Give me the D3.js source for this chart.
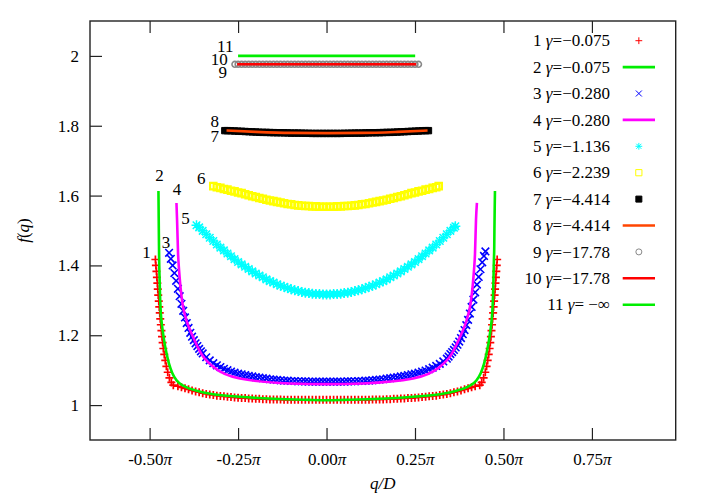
<!DOCTYPE html>
<html><head><meta charset="utf-8">
<script src="https://cdn.jsdelivr.net/npm/d3@7"></script>
<style>
html,body{margin:0;padding:0;background:#fff;}
svg{display:block;}
svg text{font-family:"Liberation Serif","Times New Roman","Nimbus Roman","DejaVu Serif",serif;}
</style></head><body>
<svg id="chart" width="706" height="494"></svg>
<script>
// ---------------- data (q in units of pi, f(q)) ----------------
const xTicks = [-0.5, -0.25, 0, 0.25, 0.5, 0.75];
const yTicks = [1, 1.2, 1.4, 1.6, 1.8, 2];
const seriesIds = ["1","2","3","4","5","6","7","8","9","10","11"];
const gammaLabels = ["−0.075","−0.075","−0.280","−0.280","−1.136","−2.239","−4.414","−4.414","−17.78","−17.78"," −∞"];

const s1 = [
[-0.4836,1.417],[-0.4822,1.400],[-0.4807,1.383],[-0.4794,1.366],[-0.4781,1.349],[-0.4769,1.332],[-0.4756,1.315],[-0.4741,1.298],[-0.4727,1.281],[-0.4713,1.264],[-0.4699,1.247],[-0.4683,1.230],[-0.4666,1.213],[-0.4649,1.196],[-0.4632,1.179],[-0.4612,1.162],[-0.4586,1.145],[-0.4557,1.128],[-0.4526,1.111],[-0.4488,1.094],[-0.4440,1.078],[-0.4385,1.065],[-0.4330,1.057],
[-0.42,1.054],[-0.41,1.051],[-0.40,1.048],[-0.39,1.045],[-0.38,1.042],[-0.37,1.039],[-0.36,1.037],[-0.35,1.034],[-0.34,1.032],[-0.33,1.030],[-0.32,1.029],[-0.31,1.027],[-0.30,1.026],[-0.29,1.025],[-0.28,1.024],[-0.27,1.023],[-0.26,1.022],[-0.25,1.021],[-0.24,1.020],[-0.23,1.020],[-0.22,1.019],[-0.21,1.019],[-0.20,1.018],[-0.19,1.018],[-0.18,1.017],[-0.17,1.017],[-0.16,1.016],[-0.15,1.016],[-0.14,1.016],[-0.13,1.016],[-0.12,1.015],[-0.11,1.015],[-0.10,1.015],[-0.09,1.015],[-0.08,1.015],[-0.07,1.015],[-0.06,1.015],[-0.05,1.015],[-0.04,1.015],[-0.03,1.015],[-0.02,1.015],[-0.01,1.015],[0,1.015],
[0.01,1.015],[0.02,1.015],[0.03,1.015],[0.04,1.015],[0.05,1.015],[0.06,1.015],[0.07,1.015],[0.08,1.015],[0.09,1.015],[0.10,1.015],[0.11,1.015],[0.12,1.015],[0.13,1.016],[0.14,1.016],[0.15,1.016],[0.16,1.016],[0.17,1.017],[0.18,1.017],[0.19,1.018],[0.20,1.018],[0.21,1.019],[0.22,1.019],[0.23,1.020],[0.24,1.020],[0.25,1.021],[0.26,1.022],[0.27,1.023],[0.28,1.024],[0.29,1.025],[0.30,1.026],[0.31,1.027],[0.32,1.029],[0.33,1.030],[0.34,1.032],[0.35,1.034],[0.36,1.037],[0.37,1.039],[0.38,1.042],[0.39,1.045],[0.40,1.048],[0.41,1.051],[0.42,1.054],
[0.4330,1.057],[0.4385,1.065],[0.4440,1.078],[0.4487,1.094],[0.4524,1.111],[0.4554,1.128],[0.4583,1.145],[0.4608,1.162],[0.4628,1.179],[0.4645,1.196],[0.4662,1.213],[0.4678,1.230],[0.4694,1.247],[0.4708,1.264],[0.4722,1.281],[0.4736,1.298],[0.4750,1.315],[0.4763,1.332],[0.4775,1.349],[0.4787,1.366],[0.4799,1.383],[0.4811,1.400],[0.4822,1.417]
];

const s2 = [
[-0.4750,1.613],[-0.4745,1.560],[-0.4740,1.505],[-0.4735,1.455],[-0.4730,1.415],[-0.4720,1.370],[-0.4705,1.312],[-0.4688,1.272],[-0.4666,1.243],[-0.4630,1.213],[-0.4590,1.185],[-0.4524,1.149],[-0.4450,1.118],[-0.4360,1.092],[-0.4240,1.071],[-0.4000,1.053],[-0.3675,1.041],[-0.3200,1.031],[-0.2450,1.024],[-0.1500,1.018],[-0.0500,1.015],[0,1.014],
[0.0500,1.015],[0.1500,1.018],[0.2450,1.024],[0.3200,1.031],[0.3675,1.041],[0.4000,1.053],[0.4240,1.071],[0.4360,1.092],[0.4450,1.118],[0.4524,1.149],[0.4590,1.185],[0.4630,1.213],[0.4666,1.243],[0.4688,1.272],[0.4705,1.312],[0.4720,1.370],[0.4730,1.415],[0.4740,1.455],[0.4745,1.505],[0.4752,1.560],[0.4760,1.613]
];

const s3 = [
[-0.445,1.436],[-0.440,1.419],[-0.435,1.400],[-0.430,1.378],[-0.425,1.356],[-0.420,1.333],[-0.415,1.312],[-0.410,1.290],[-0.405,1.270],[-0.400,1.251],[-0.395,1.235],[-0.390,1.221],[-0.385,1.207],[-0.380,1.196],[-0.375,1.186],[-0.370,1.177],[-0.365,1.169],[-0.360,1.161],[-0.355,1.154],[-0.350,1.148],
[-0.34,1.137],[-0.33,1.128],[-0.32,1.120],[-0.31,1.114],[-0.30,1.109],[-0.29,1.104],[-0.28,1.100],[-0.27,1.096],[-0.26,1.093],[-0.25,1.090],[-0.24,1.088],[-0.23,1.086],[-0.22,1.084],[-0.21,1.082],[-0.20,1.080],[-0.19,1.079],[-0.18,1.077],[-0.17,1.076],[-0.16,1.074],[-0.15,1.073],[-0.14,1.072],[-0.13,1.071],[-0.12,1.070],[-0.11,1.070],[-0.10,1.069],[-0.09,1.069],[-0.08,1.068],[-0.07,1.068],[-0.06,1.068],[-0.05,1.067],[-0.04,1.067],[-0.03,1.067],[-0.02,1.067],[-0.01,1.067],[0,1.067],
[0.01,1.067],[0.02,1.067],[0.03,1.067],[0.04,1.067],[0.05,1.067],[0.06,1.068],[0.07,1.068],[0.08,1.068],[0.09,1.069],[0.10,1.069],[0.11,1.070],[0.12,1.070],[0.13,1.071],[0.14,1.072],[0.15,1.073],[0.16,1.074],[0.17,1.076],[0.18,1.077],[0.19,1.079],[0.20,1.080],[0.21,1.082],[0.22,1.084],[0.23,1.086],[0.24,1.088],[0.25,1.090],[0.26,1.093],[0.27,1.096],[0.28,1.099],[0.29,1.103],[0.30,1.107],[0.31,1.112],[0.32,1.118],[0.33,1.125],[0.34,1.133],
[0.345,1.139],[0.350,1.146],[0.355,1.152],[0.360,1.158],[0.365,1.165],[0.370,1.173],[0.375,1.182],[0.380,1.192],[0.385,1.203],[0.390,1.215],[0.395,1.229],[0.400,1.244],[0.405,1.262],[0.410,1.281],[0.415,1.302],[0.420,1.323],[0.425,1.345],[0.430,1.367],[0.435,1.389],[0.440,1.409],[0.445,1.427],[0.449,1.440]
];

const s4 = [
[-0.4241,1.579],[-0.4224,1.530],[-0.4196,1.434],[-0.4168,1.387],[-0.4128,1.339],[-0.4071,1.291],[-0.3958,1.243],[-0.3771,1.195],[-0.3533,1.146],[-0.3157,1.106],[-0.2449,1.076],[-0.1033,1.062],[0,1.060],
[0.1033,1.062],[0.2449,1.076],[0.3157,1.106],[0.3533,1.146],[0.3771,1.195],[0.3958,1.243],[0.4071,1.291],[0.4128,1.339],[0.4168,1.387],[0.4196,1.434],[0.4224,1.530],[0.4250,1.579]
];

const s5 = [
[-0.3675,1.515],[-0.36,1.509],[-0.35,1.499],[-0.34,1.489],[-0.33,1.479],[-0.32,1.470],[-0.31,1.460],[-0.30,1.451],[-0.29,1.443],[-0.28,1.434],[-0.27,1.426],[-0.26,1.418],[-0.25,1.410],[-0.24,1.403],[-0.23,1.396],[-0.22,1.390],[-0.21,1.383],[-0.20,1.377],[-0.19,1.371],[-0.18,1.366],[-0.17,1.360],[-0.16,1.355],[-0.15,1.351],[-0.14,1.346],[-0.13,1.342],[-0.12,1.339],[-0.11,1.335],[-0.10,1.332],[-0.09,1.329],[-0.08,1.327],[-0.07,1.324],[-0.06,1.322],[-0.05,1.321],[-0.04,1.319],[-0.03,1.318],[-0.02,1.318],[-0.01,1.317],[0,1.317],
[0.01,1.317],[0.02,1.318],[0.03,1.318],[0.04,1.319],[0.05,1.321],[0.06,1.322],[0.07,1.324],[0.08,1.327],[0.09,1.329],[0.10,1.332],[0.11,1.335],[0.12,1.339],[0.13,1.342],[0.14,1.346],[0.15,1.351],[0.16,1.355],[0.17,1.360],[0.18,1.366],[0.19,1.371],[0.20,1.377],[0.21,1.383],[0.22,1.390],[0.23,1.396],[0.24,1.403],[0.25,1.410],[0.26,1.418],[0.27,1.426],[0.28,1.434],[0.29,1.443],[0.30,1.451],[0.31,1.460],[0.32,1.470],[0.33,1.479],[0.34,1.489],[0.35,1.499],[0.36,1.508],[0.364,1.512]
];

const s6 = [
[-0.32,1.627],[-0.31,1.624],[-0.30,1.622],[-0.29,1.619],[-0.28,1.617],[-0.27,1.614],[-0.26,1.612],[-0.25,1.609],[-0.24,1.607],[-0.23,1.604],[-0.22,1.601],[-0.21,1.598],[-0.20,1.596],[-0.19,1.593],[-0.18,1.591],[-0.17,1.588],[-0.16,1.586],[-0.15,1.584],[-0.14,1.582],[-0.13,1.580],[-0.12,1.578],[-0.11,1.576],[-0.10,1.575],[-0.09,1.573],[-0.08,1.572],[-0.07,1.571],[-0.06,1.570],[-0.05,1.570],[-0.04,1.569],[-0.03,1.569],[-0.02,1.568],[-0.01,1.568],[0,1.568],
[0.01,1.568],[0.02,1.568],[0.03,1.569],[0.04,1.569],[0.05,1.570],[0.06,1.570],[0.07,1.571],[0.08,1.572],[0.09,1.573],[0.10,1.575],[0.11,1.576],[0.12,1.578],[0.13,1.580],[0.14,1.582],[0.15,1.584],[0.16,1.586],[0.17,1.588],[0.18,1.591],[0.19,1.593],[0.20,1.596],[0.21,1.598],[0.22,1.601],[0.23,1.604],[0.24,1.607],[0.25,1.609],[0.26,1.612],[0.27,1.614],[0.28,1.617],[0.29,1.619],[0.30,1.622],[0.31,1.624],[0.317,1.627]
];

const s7 = [
[-0.2874,1.786],[-0.28,1.786],[-0.27,1.7855],[-0.26,1.785],[-0.25,1.7845],[-0.24,1.784],[-0.23,1.7835],[-0.22,1.783],[-0.21,1.7825],[-0.20,1.782],[-0.19,1.7815],[-0.18,1.781],[-0.17,1.781],[-0.16,1.7805],[-0.15,1.7803],[-0.14,1.780],[-0.13,1.780],[-0.12,1.7797],[-0.11,1.7795],[-0.10,1.779],[-0.09,1.779],[-0.08,1.779],[-0.07,1.7787],[-0.06,1.7785],[-0.05,1.7783],[-0.04,1.778],[-0.03,1.778],[-0.02,1.778],[-0.01,1.778],[0,1.778],
[0.01,1.778],[0.02,1.778],[0.03,1.778],[0.04,1.778],[0.05,1.7783],[0.06,1.7785],[0.07,1.7787],[0.08,1.779],[0.09,1.779],[0.10,1.779],[0.11,1.7795],[0.12,1.7797],[0.13,1.780],[0.14,1.780],[0.15,1.7803],[0.16,1.7805],[0.17,1.781],[0.18,1.781],[0.19,1.7815],[0.20,1.782],[0.21,1.7825],[0.22,1.783],[0.23,1.7835],[0.24,1.784],[0.25,1.7845],[0.26,1.785],[0.27,1.7855],[0.28,1.786],[0.288,1.786]
];

const s8 = [[-0.2826,1.7865],[-0.20,1.7825],[-0.10,1.7795],[0,1.779],[0.10,1.7795],[0.20,1.7825],[0.2855,1.7865]];

const s9 = [
[-0.259,1.976],[-0.25,1.976],[-0.24,1.976],[-0.23,1.976],[-0.22,1.976],[-0.21,1.976],[-0.20,1.976],[-0.19,1.976],[-0.18,1.976],[-0.17,1.976],[-0.16,1.976],[-0.15,1.976],[-0.14,1.976],[-0.13,1.976],[-0.12,1.976],[-0.11,1.976],[-0.10,1.976],[-0.09,1.976],[-0.08,1.976],[-0.07,1.976],[-0.06,1.976],[-0.05,1.976],[-0.04,1.976],[-0.03,1.976],[-0.02,1.976],[-0.01,1.976],[0,1.976],
[0.01,1.976],[0.02,1.976],[0.03,1.976],[0.04,1.976],[0.05,1.976],[0.06,1.976],[0.07,1.976],[0.08,1.976],[0.09,1.976],[0.10,1.976],[0.11,1.976],[0.12,1.976],[0.13,1.976],[0.14,1.976],[0.15,1.976],[0.16,1.976],[0.17,1.976],[0.18,1.976],[0.19,1.976],[0.20,1.976],[0.21,1.976],[0.22,1.976],[0.23,1.976],[0.24,1.976],[0.25,1.976],[0.26,1.976]
];

const s10 = [[-0.2525,1.976],[0.2534,1.976]];
const s11 = [[-0.2500,2.000],[0.2505,2.000]];

// ---------------- styles / table ----------------
const seriesTable = [
  {data:s1,  kind:"plus",    color:"#ff0000", lab:[-9,-1]},
  {data:s2,  kind:"line",    color:"#00ee00", lab:[1,-10]},
  {data:s3,  kind:"cross",   color:"#0000ff", lab:[-3,-4.5]},
  {data:s4,  kind:"line",    color:"#ff00ff", lab:[0.5,-7.7]},
  {data:s5,  kind:"star",    color:"#00ffff", lab:[-11,-1.7]},
  {data:s6,  kind:"square",  color:"#ffff00", lab:[-12,-1.7]},
  {data:s7,  kind:"fsquare", color:"#000000", lab:[-10,11]},
  {data:s8,  kind:"line",    color:"#ff4500", lab:[-11.7,-3.3]},
  {data:s9,  kind:"circle",  color:"#888888", lab:[-12.2,13.7]},
  {data:s10, kind:"line",    color:"#ff0000", lab:[-18,0.7]},
  {data:s11, kind:"line",    color:"#00ee00", lab:[-12.8,-4]}
];

const W = 706, H = 494;
const M = {left:90, right:30.3, top:21, bottom:54};
const FONT = '"Liberation Serif","Times New Roman","Nimbus Roman","DejaVu Serif",serif';
const svg = d3.select("#chart");
const x = d3.scaleLinear().domain([-2.1/Math.PI, 3.1/Math.PI]).range([M.left, W - M.right]);
const y = d3.scaleLinear().domain([0.9, 2.1]).range([H - M.bottom, M.top]);
const FS = 17;
const axisColor = "#222";

function markerPath(kind, s){
  switch(kind){
    case "plus":  return `M${-s},0H${s}M0,${-s}V${s}`;
    case "cross": return `M${-s},${-s}L${s},${s}M${-s},${s}L${s},${-s}`;
    case "star":  { const d = s*0.75; return `M${-s},0H${s}M0,${-s}V${s}M${-d},${-d}L${d},${d}M${-d},${d}L${d},${-d}`; }
    case "square":
    case "fsquare": return `M${-s},${-s}H${s}V${s}H${-s}Z`;
    case "circle": return d3.arc()({innerRadius:0, outerRadius:s, startAngle:0, endAngle:2*Math.PI});
  }
}
const plotSize  = {plus:4, cross:3.8, star:5, square:3.2, fsquare:3.2, circle:2.9};
const plotWidth = {plus:1.7, cross:1.6, star:1.5, square:2.2, fsquare:1, circle:1.6};
const legSize   = {plus:3.4, cross:3, star:3.4, square:3.1, fsquare:3, circle:3};

// axes
const gx = svg.append("g").attr("transform",`translate(0,${H-M.bottom})`)
  .call(d3.axisBottom(x).tickValues(xTicks).tickSizeInner(-12).tickSizeOuter(0).tickPadding(13)
        .tickFormat(d => d3.format(".2f")(d).replace("−","-")));
gx.attr("font-family", FONT);
gx.select(".domain").remove();
gx.selectAll(".tick line").attr("stroke",axisColor).attr("stroke-width",1.2);
gx.selectAll(".tick text").attr("font-size",FS).attr("fill","#000")
  .each(function(){
    const t = d3.select(this); const s = t.text(); t.text(null);
    t.append("tspan").text(s);
    t.append("tspan").attr("font-style","italic").text("π");
  });

const gt = svg.append("g").attr("transform",`translate(0,${M.top})`)
  .call(d3.axisTop(x).tickValues(xTicks).tickSizeInner(-12).tickSizeOuter(0).tickFormat(""));
gt.select(".domain").remove();
gt.selectAll(".tick line").attr("stroke",axisColor).attr("stroke-width",1.2);

const gy = svg.append("g").attr("transform",`translate(${M.left},0)`)
  .call(d3.axisLeft(y).tickValues(yTicks).tickSizeInner(-12).tickSizeOuter(0).tickPadding(11)
        .tickFormat(d => String(d)));
gy.attr("font-family", FONT);
gy.select(".domain").remove();
gy.selectAll(".tick line").attr("stroke",axisColor).attr("stroke-width",1.2);
gy.selectAll(".tick text").attr("font-size",FS).attr("fill","#000");

// frame
svg.append("rect").attr("x",M.left).attr("y",M.top)
  .attr("width",W-M.left-M.right).attr("height",H-M.top-M.bottom)
  .attr("fill","none").attr("stroke",axisColor).attr("stroke-width",1.4);

// axis titles
svg.append("text").attr("x",(M.left+W-M.right)/2).attr("y",489).attr("text-anchor","middle")
  .attr("font-family",FONT).attr("font-size",FS).attr("font-style","italic").text("q/D");
const yl = svg.append("text").attr("transform",`translate(29,${(M.top+H-M.bottom)/2}) rotate(-90)`)
  .attr("text-anchor","middle").attr("font-family",FONT).attr("font-size",FS);
yl.append("tspan").attr("font-style","italic").text("f");
yl.append("tspan").text("(");
yl.append("tspan").attr("font-style","italic").text("q");
yl.append("tspan").text(")");

// series
const plot = svg.append("g");
const line = d3.line().x(d => x(d[0])).y(d => y(d[1])).curve(d3.curveMonotoneX);
seriesTable.forEach((s, i) => {
  if (s.kind === "line") {
    plot.append("path").attr("d", line(s.data)).attr("fill","none")
      .attr("stroke", s.color).attr("stroke-width", 2.6).attr("stroke-linecap","butt");
  } else {
    const filled = s.kind === "fsquare";
    plot.append("g").selectAll("path").data(s.data).join("path")
      .attr("transform", d => `translate(${x(d[0])},${y(d[1])})`)
      .attr("d", markerPath(s.kind, plotSize[s.kind]))
      .attr("fill", filled ? s.color : "none")
      .attr("stroke", s.color).attr("stroke-width", plotWidth[s.kind]);
  }
  const p0 = s.data[0];
  plot.append("text").attr("x", x(p0[0]) + s.lab[0]).attr("y", y(p0[1]) + s.lab[1])
    .attr("text-anchor","middle").attr("font-family",FONT).attr("font-size",FS).text(seriesIds[i]);
});

// legend
const legTextX = 610, legSampleX0 = 622.7, legSampleX1 = 655, legY0 = 40.7, legDY = 26.4;
const leg = svg.append("g");
seriesTable.forEach((s, i) => {
  const cy = legY0 + i*legDY;
  const t = leg.append("text").attr("x",legTextX).attr("y",cy).attr("dy","0.34em")
    .attr("text-anchor","end").attr("font-family",FONT).attr("font-size",FS);
  t.append("tspan").text(seriesIds[i] + " ");
  t.append("tspan").attr("font-style","italic").text("γ");
  t.append("tspan").text("=" + gammaLabels[i]);
  if (s.kind === "line") {
    leg.append("line").attr("x1",legSampleX0).attr("x2",legSampleX1).attr("y1",cy).attr("y2",cy)
      .attr("stroke",s.color).attr("stroke-width",2.6);
  } else {
    const filled = s.kind === "fsquare";
    leg.append("path").attr("transform",`translate(${(legSampleX0+legSampleX1)/2},${cy})`)
      .attr("d", markerPath(s.kind, legSize[s.kind]))
      .attr("fill", filled ? s.color : "none").attr("stroke", s.color).attr("stroke-width",1);
  }
});
</script>
</body></html>
